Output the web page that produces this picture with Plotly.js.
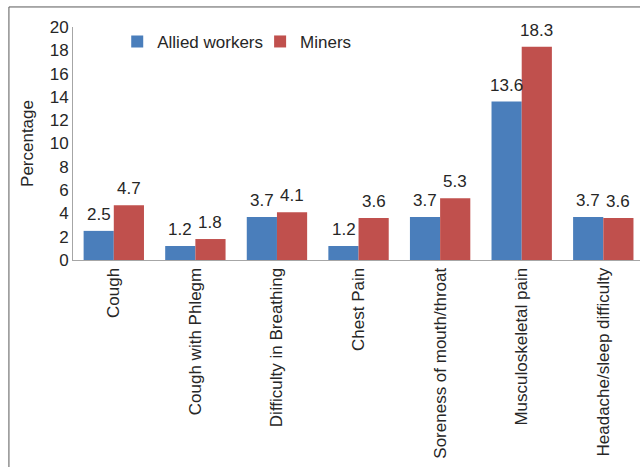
<!DOCTYPE html>
<html><head><meta charset="utf-8">
<script src="https://cdn.plot.ly/plotly-3.0.1.min.js"></script>
<style>html,body{margin:0;padding:0;background:#fff}#chart{width:640px;height:467px}</style>
</head><body><div id="chart"></div>
<script>
const categories = ["Cough","Cough with Phlegm","Difficulty in Breathing","Chest Pain","Soreness of mouth/throat","Musculoskeletal pain","Headache/sleep difficulty"];
const alliedWorkers = [2.5,1.2,3.7,1.2,3.7,13.6,3.7];
const miners = [4.7,1.8,4.1,3.6,5.3,18.3,3.6];
const yTicks = [0,2,4,6,8,10,12,14,16,18,20];

const font = {family:"Liberation Sans, Arial, sans-serif", size:17, color:"#262626"};
const traces = [
  {type:"bar", name:"Allied workers", x:categories, y:alliedWorkers, marker:{color:"#4a7ebb"}, legend:"legend"},
  {type:"bar", name:"Miners", x:categories, y:miners, marker:{color:"#c0504d"}, legend:"legend2"}
];
const annotations = [];
categories.forEach((c,i)=>{
  annotations.push({x:c, y:alliedWorkers[i], xref:"x", yref:"y", text:alliedWorkers[i].toFixed(1), showarrow:false,
    xshift:-15, yshift:5, yanchor:"bottom", font:font});
  annotations.push({x:c, y:miners[i], xref:"x", yref:"y", text:miners[i].toFixed(1), showarrow:false,
    xshift:15, yshift:5, yanchor:"bottom", font:font});
});
const layout = {
  width:640, height:467,
  margin:{l:73, r:0, t:27, b:207},
  paper_bgcolor:"#fff", plot_bgcolor:"#fff",
  font:font,
  barmode:"group", bargap:0.26, bargroupgap:0,
  showlegend:true,
  legend:{orientation:"h", x:0.078, y:0.936, xanchor:"left", yanchor:"middle", font:font, bgcolor:"rgba(0,0,0,0)"},
  legend2:{orientation:"h", x:0.33, y:0.936, xanchor:"left", yanchor:"middle", font:font, bgcolor:"rgba(0,0,0,0)"},
  xaxis:{type:"category", range:[-0.5,6.45], tickangle:-90, showline:true, linecolor:"#a6a6a6", linewidth:1,
         ticks:"", showgrid:false, tickfont:font, automargin:false},
  yaxis:{range:[0,20], tickvals:yTicks, showline:true, linecolor:"#a6a6a6", linewidth:1, ticks:"",
         showgrid:false, zeroline:false, tickfont:font, automargin:false,
         title:{text:"Percentage", font:font, standoff:11}},
  annotations:annotations,
  shapes:[
    {type:"line", xref:"paper", yref:"paper", x0:-0.113, x1:-0.113, y0:-0.9, y1:1.086, line:{color:"#595959", width:1}},
    {type:"line", xref:"paper", yref:"paper", x0:-0.113, x1:1.02, y0:1.086, y1:1.086, line:{color:"#595959", width:1}}
  ]
};
Plotly.newPlot("chart", traces, layout, {displayModeBar:false, staticPlot:true});
</script></body></html>
